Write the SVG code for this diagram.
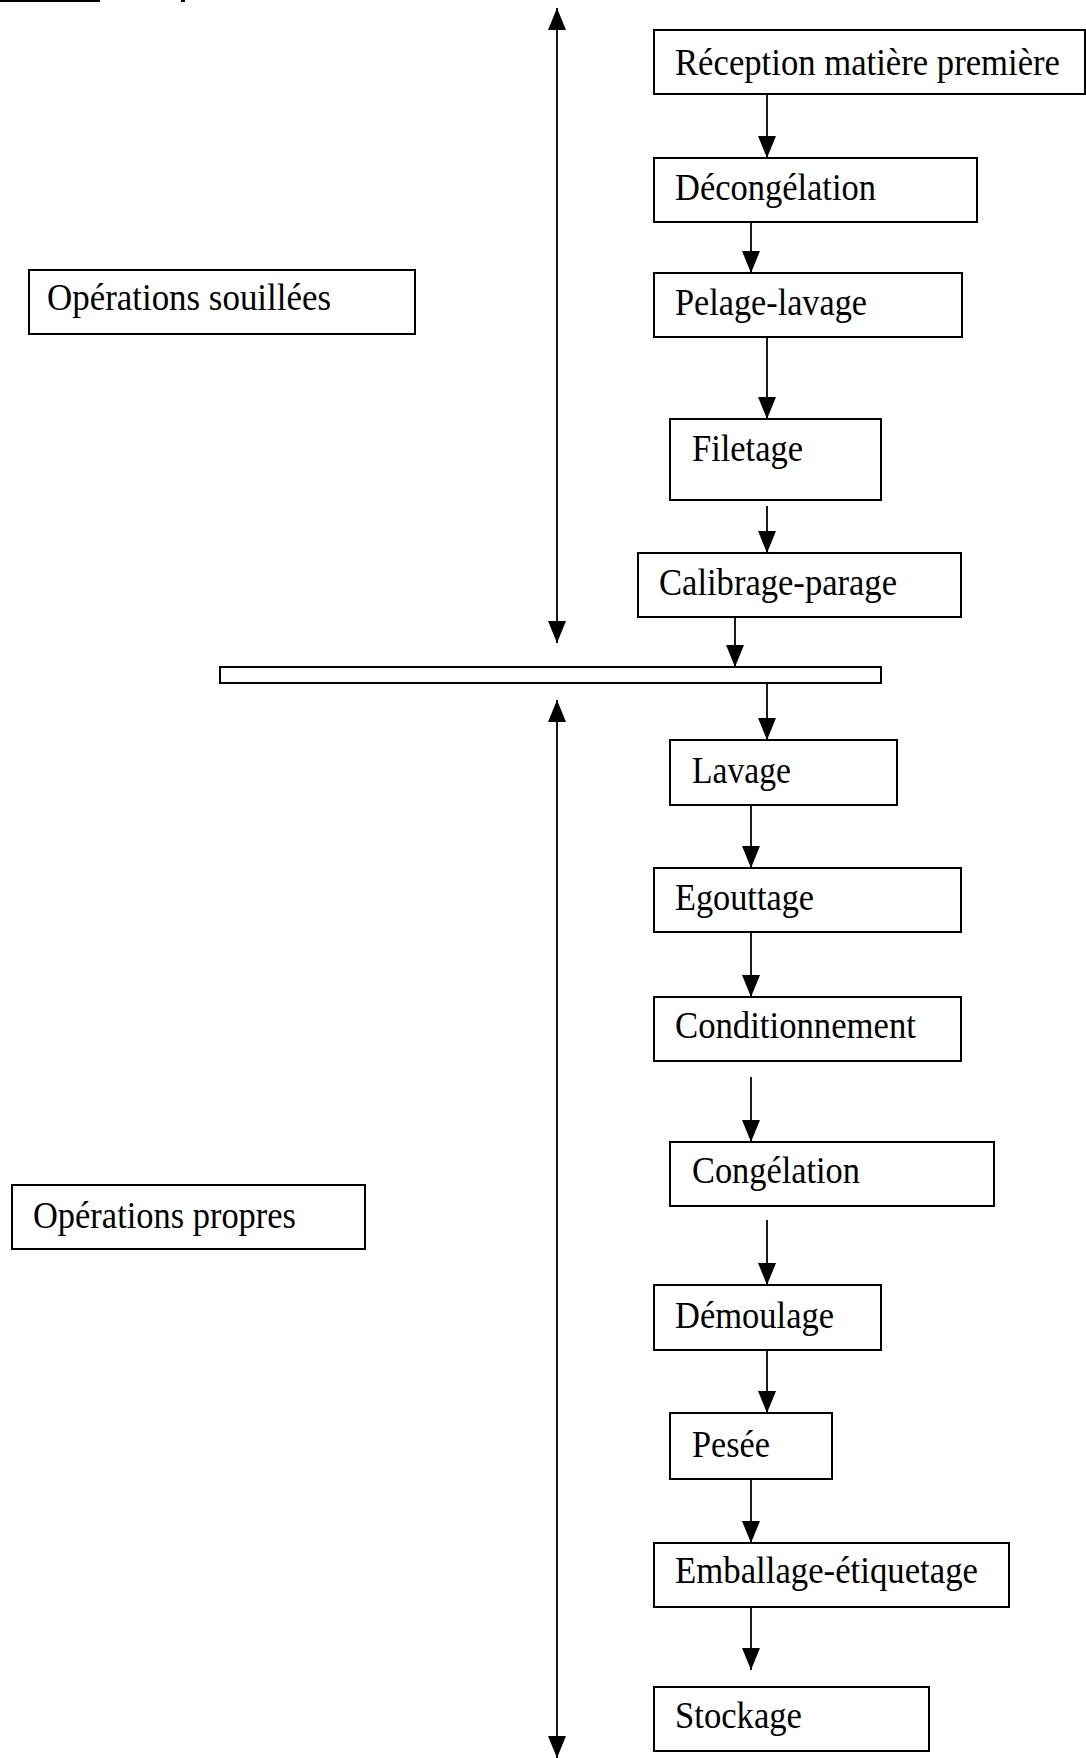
<svg xmlns="http://www.w3.org/2000/svg" width="1086" height="1758" viewBox="0 0 1086 1758">
<style>
.box{fill:#fff;stroke:#000;stroke-width:2}
.lbl{font-family:"Liberation Serif","Times New Roman",serif;font-size:37px;fill:#000}
.con{stroke:#000;stroke-width:1.8;fill:none}
</style>
<defs>
<marker id="ah" viewBox="0 0 22 18" refX="22" refY="9" markerWidth="22" markerHeight="18" markerUnits="userSpaceOnUse" orient="auto-start-reverse">
<path d="M0,0 L22,9 L0,18 z" fill="#000"/>
</marker>
</defs>
<rect width="1086" height="1758" fill="#fff"/>
<g id="top-mark">
<rect x="0" y="0" width="100" height="2" fill="#000"/>
<rect x="181" y="0" width="4" height="2" fill="#000"/>
</g>
<g id="connectors">
<line class="con" x1="557" y1="8" x2="557" y2="643" marker-start="url(#ah)" marker-end="url(#ah)"/>
<line class="con" x1="557" y1="700" x2="557" y2="1758" marker-start="url(#ah)" marker-end="url(#ah)"/>
<line class="con" x1="767" y1="94" x2="767" y2="158" marker-end="url(#ah)"/>
<line class="con" x1="751" y1="222" x2="751" y2="273" marker-end="url(#ah)"/>
<line class="con" x1="767" y1="337" x2="767" y2="419" marker-end="url(#ah)"/>
<line class="con" x1="767" y1="506" x2="767" y2="553" marker-end="url(#ah)"/>
<line class="con" x1="735" y1="617" x2="735" y2="667" marker-end="url(#ah)"/>
<line class="con" x1="767" y1="684" x2="767" y2="740" marker-end="url(#ah)"/>
<line class="con" x1="751" y1="805" x2="751" y2="868" marker-end="url(#ah)"/>
<line class="con" x1="751" y1="932" x2="751" y2="997" marker-end="url(#ah)"/>
<line class="con" x1="751" y1="1077" x2="751" y2="1142" marker-end="url(#ah)"/>
<line class="con" x1="767" y1="1220" x2="767" y2="1285" marker-end="url(#ah)"/>
<line class="con" x1="767" y1="1350" x2="767" y2="1413" marker-end="url(#ah)"/>
<line class="con" x1="751" y1="1479" x2="751" y2="1543" marker-end="url(#ah)"/>
<line class="con" x1="751" y1="1607" x2="751" y2="1670" marker-end="url(#ah)"/>
</g>
<g id="separator"><rect class="box" x="220" y="667" width="661" height="16"/></g>
<g id="ops-souillees"><rect class="box" x="29" y="270" width="386" height="64"/><text class="lbl" x="47" y="310" textLength="284" lengthAdjust="spacingAndGlyphs">Opérations souillées</text></g>
<g id="ops-propres"><rect class="box" x="12" y="1185" width="353" height="64"/><text class="lbl" x="33" y="1228" textLength="263" lengthAdjust="spacingAndGlyphs">Opérations propres</text></g>
<g id="reception"><rect class="box" x="654" y="30" width="431" height="64"/><text class="lbl" x="675" y="75" textLength="385" lengthAdjust="spacingAndGlyphs">Réception matière première</text></g>
<g id="decongelation"><rect class="box" x="654" y="158" width="323" height="64"/><text class="lbl" x="675" y="200" textLength="201" lengthAdjust="spacingAndGlyphs">Décongélation</text></g>
<g id="pelage-lavage"><rect class="box" x="654" y="273" width="308" height="64"/><text class="lbl" x="675" y="315" textLength="192" lengthAdjust="spacingAndGlyphs">Pelage-lavage</text></g>
<g id="filetage"><rect class="box" x="670" y="419" width="211" height="81"/><text class="lbl" x="692" y="461" textLength="111" lengthAdjust="spacingAndGlyphs">Filetage</text></g>
<g id="calibrage-parage"><rect class="box" x="638" y="553" width="323" height="64"/><text class="lbl" x="659" y="595" textLength="238" lengthAdjust="spacingAndGlyphs">Calibrage-parage</text></g>
<g id="lavage"><rect class="box" x="670" y="740" width="227" height="65"/><text class="lbl" x="692" y="783" textLength="99" lengthAdjust="spacingAndGlyphs">Lavage</text></g>
<g id="egouttage"><rect class="box" x="654" y="868" width="307" height="64"/><text class="lbl" x="675" y="910" textLength="139" lengthAdjust="spacingAndGlyphs">Egouttage</text></g>
<g id="conditionnement"><rect class="box" x="654" y="997" width="307" height="64"/><text class="lbl" x="675" y="1038" textLength="241" lengthAdjust="spacingAndGlyphs">Conditionnement</text></g>
<g id="congelation"><rect class="box" x="670" y="1142" width="324" height="64"/><text class="lbl" x="692" y="1183" textLength="168" lengthAdjust="spacingAndGlyphs">Congélation</text></g>
<g id="demoulage"><rect class="box" x="654" y="1285" width="227" height="65"/><text class="lbl" x="675" y="1328" textLength="159" lengthAdjust="spacingAndGlyphs">Démoulage</text></g>
<g id="pesee"><rect class="box" x="670" y="1413" width="162" height="66"/><text class="lbl" x="692" y="1457" textLength="78" lengthAdjust="spacingAndGlyphs">Pesée</text></g>
<g id="emballage"><rect class="box" x="654" y="1543" width="355" height="64"/><text class="lbl" x="675" y="1583" textLength="303" lengthAdjust="spacingAndGlyphs">Emballage-étiquetage</text></g>
<g id="stockage"><rect class="box" x="654" y="1687" width="275" height="64"/><text class="lbl" x="675" y="1728" textLength="127" lengthAdjust="spacingAndGlyphs">Stockage</text></g>
</svg>
